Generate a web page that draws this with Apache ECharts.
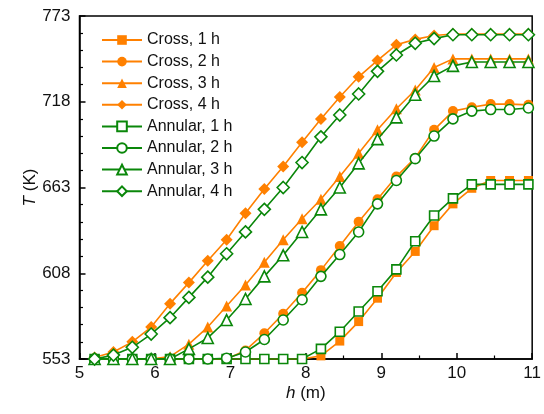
<!DOCTYPE html>
<html>
<head>
<meta charset="utf-8">
<script src="https://cdn.jsdelivr.net/npm/echarts@6/dist/echarts.min.js"></script>
<style>
  html, body { margin: 0; padding: 0; background: #fff; }
  #chart { width: 544px; height: 414px; }
</style>
</head>
<body>
<div id="chart"></div>
<script>
// Height positions along the column (m)
const heights = [5.2, 5.45, 5.7, 5.95, 6.2, 6.45, 6.7, 6.95, 7.2, 7.45, 7.7, 7.95,
                 8.2, 8.45, 8.7, 8.95, 9.2, 9.45, 9.7, 9.95, 10.2, 10.45, 10.7, 10.95];

// Temperature profiles (K), cross arrangement
const cross1h = [553, 553, 553, 553, 553, 553, 553, 553, 553, 553, 553, 553,
                 555, 564.5, 577, 592, 608.5, 622, 638.5, 652.5, 662.5, 667.5, 667.5, 667.5];
const cross2h = [553, 553, 553, 553, 553, 553, 553, 553, 558.5, 569.5, 582, 595.5,
                 610, 625.5, 641, 655.5, 670, 682, 700, 712, 714.5, 716.5, 716.5, 716];
const cross3h = [553, 553, 553, 553, 554.5, 562.5, 573.5, 587, 600.5, 615, 629.5, 643,
                 655.5, 670, 685, 700, 713.5, 725.5, 740, 745.5, 745.5, 745.5, 745.5, 745.5];
const cross4h = [554, 557.5, 564, 573.5, 588.5, 602, 616, 629.5, 646.5, 662, 676.5, 692,
                 707, 721, 734, 744.5, 754.5, 758, 760.5, 761.5, 761.5, 761.5, 761.5, 761.5];

// Temperature profiles (K), annular arrangement
const annular1h = [553, 553, 553, 553, 553, 553, 553, 553, 553, 553, 553, 553,
                   559.5, 570.5, 583.5, 596.5, 610.5, 628.5, 645, 656, 665, 665, 665, 665];
const annular2h = [553, 553, 553, 553, 553, 553, 553, 553.5, 557.5, 565.5, 578, 591,
                   606, 620, 634.5, 652.5, 667.5, 681.5, 696, 707, 712, 713, 713, 714];
const annular3h = [553, 553, 553, 553, 553, 559.5, 566.5, 578, 591.5, 606, 619.5, 634.5,
                   649, 663, 678.5, 694, 708, 722.5, 734.5, 741, 743.5, 743.5, 743.5, 743.5];
const annular4h = [553, 555.5, 560.5, 569, 579.5, 592.5, 605.5, 620.5, 634.5, 649, 663, 679,
                   695.5, 709.5, 723, 737.5, 748, 755.5, 758.5, 761, 761, 761, 761, 761];

const yTicks = [553, 608, 663, 718, 773];
const xTicks = [5, 6, 7, 8, 9, 10, 11];

const ORANGE = '#FF8000';
const GREEN = '#0A870A';

function pairs(vals) {
  return heights.map((h, i) => [h, vals[i]]);
}

function filledSeries(name, vals, symbol, size) {
  return {
    name, type: 'line', data: pairs(vals),
    symbol, symbolSize: size, showSymbol: true,
    lineStyle: { color: ORANGE, width: 1.6 },
    itemStyle: { color: ORANGE, borderWidth: 0 },
    z: 2
  };
}

function hollowSeries(name, vals, symbol, size) {
  return {
    name, type: 'line', data: pairs(vals),
    symbol, symbolSize: size, showSymbol: true,
    lineStyle: { color: GREEN, width: 1.6 },
    itemStyle: { color: '#ffffff', borderColor: GREEN, borderWidth: 1.6 },
    z: 3
  };
}

const chart = echarts.init(document.getElementById('chart'), null, { renderer: 'canvas' });

const axisFont = 'Liberation Sans, Arial, sans-serif';

chart.setOption({
  animation: false,
  backgroundColor: '#ffffff',
  textStyle: { fontFamily: axisFont },
  grid: {
    left: 79.5, right: 9.7, top: 16, bottom: 55,
    show: true, borderColor: '#000', borderWidth: 1.5, backgroundColor: 'transparent'
  },
  legend: {
    orient: 'vertical', left: 96, top: 27,
    itemWidth: 40, itemHeight: 12, itemGap: 5.6,
    textStyle: { fontSize: 16, color: '#111', fontFamily: axisFont },
    data: ['Cross, 1 h', 'Cross, 2 h', 'Cross, 3 h', 'Cross, 4 h',
           'Annular, 1 h', 'Annular, 2 h', 'Annular, 3 h', 'Annular, 4 h']
  },
  xAxis: {
    type: 'value', min: xTicks[0], max: xTicks[xTicks.length - 1], interval: 1,
    name: '{i|h} (m)', nameLocation: 'middle', nameGap: 26, nameMoveOverlap: false,
    nameTextStyle: {
      fontSize: 17, color: '#111', fontFamily: axisFont,
      rich: { i: { fontStyle: 'italic', fontSize: 17, color: '#111', fontFamily: axisFont } }
    },
    axisLine: { show: true, lineStyle: { color: '#000', width: 1.5 } },
    axisTick: { show: true, inside: true, length: 6, lineStyle: { color: '#000', width: 1.5 } },
    minorTick: { show: true, splitNumber: 2, length: 3.5, lineStyle: { color: '#000', width: 1.2 } },
    axisLabel: { fontSize: 17, color: '#111', margin: 6, fontFamily: axisFont },
    splitLine: { show: false }
  },
  yAxis: {
    type: 'value', min: yTicks[0], max: yTicks[yTicks.length - 1], interval: 55,
    name: '{i|T} (K)', nameLocation: 'middle', nameGap: 41, nameRotate: 90, nameMoveOverlap: false,
    nameTextStyle: {
      fontSize: 17, color: '#111', fontFamily: axisFont,
      rich: { i: { fontStyle: 'italic', fontSize: 17, color: '#111', fontFamily: axisFont } }
    },
    axisLine: { show: true, lineStyle: { color: '#000', width: 1.5 } },
    axisTick: { show: true, inside: true, length: 6, lineStyle: { color: '#000', width: 1.5 } },
    minorTick: { show: true, splitNumber: 5, length: 3.5, lineStyle: { color: '#000', width: 1.2 } },
    axisLabel: { fontSize: 17, color: '#111', margin: 9, fontFamily: axisFont },
    splitLine: { show: false }
  },
  series: [
    filledSeries('Cross, 1 h', cross1h, 'rect', 9),
    filledSeries('Cross, 2 h', cross2h, 'circle', 10),
    filledSeries('Cross, 3 h', cross3h, 'triangle', 11),
    filledSeries('Cross, 4 h', cross4h, 'diamond', 12),
    hollowSeries('Annular, 1 h', annular1h, 'rect', 9),
    hollowSeries('Annular, 2 h', annular2h, 'circle', 10),
    hollowSeries('Annular, 3 h', annular3h, 'triangle', 11),
    hollowSeries('Annular, 4 h', annular4h, 'diamond', 12)
  ]
});
</script>
</body>
</html>
